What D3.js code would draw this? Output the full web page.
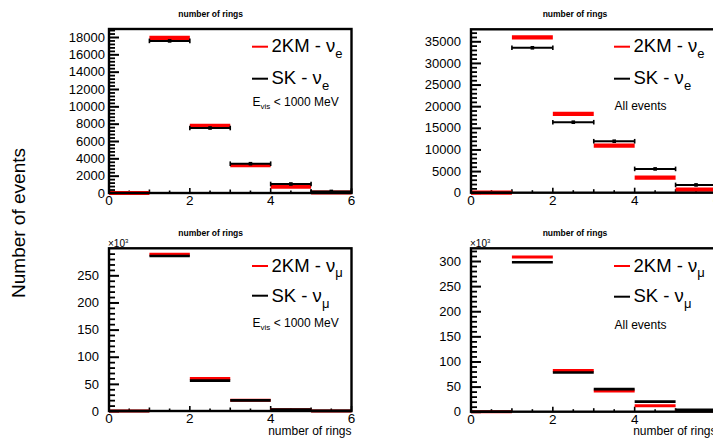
<!DOCTYPE html>
<html>
<head>
<meta charset="utf-8">
<script src="https://cdn.jsdelivr.net/npm/d3@7"></script>
<style>
  html, body { margin: 0; padding: 0; background: #fff; }
  svg { display: block; font-family: "Liberation Sans", Arial, Helvetica, sans-serif; }
</style>
</head>
<body>
<svg id="chart" width="713" height="439"></svg>
<script>
// Bin edges of the ring-count histograms
const binEdges = [0, 1, 2, 3, 4, 5, 6];

// nu_e, E_vis < 1000 MeV
const nueLow2KM = [0, 17900, 7750, 3200, 730, 60];
const nueLowSK  = [0, 17550, 7500, 3380, 1040, 180];
// nu_e, all events
const nueAll2KM = [0, 35900, 18200, 10900, 3500, 700];
const nueAllSK  = [0, 33500, 16300, 11900, 5500, 1800];
// nu_mu, E_vis < 1000 MeV
const numuLow2KM = [0, 289000, 60000, 20000, 2500, 200];
const numuLowSK  = [0, 285500, 56000, 19500, 2500, 200];
// nu_mu, all events
const numuAll2KM = [0, 308000, 82000, 41000, 12000, 2000];
const numuAllSK  = [0, 297500, 78000, 45000, 20000, 4000];

// Axis tick labels
const xTickLabels = ["0", "2", "4", "6"];

const svg = d3.select("#chart");
svg.append("rect").attr("width", 713).attr("height", 439).attr("fill", "#fff");

const panels = [
  { red: nueLow2KM, black: nueLowSK, flavor: "e", note: "low", errStyle: true,
    x0: 109, x1: 351.5, yTop: 29, yBottom: 193, yMax: 18923, scale: 1,
    major: 2000, minor: 400, labelGap: 4, titleX: 210.7, titleY: 16.5,
    legX: 252, legRedY: 46.7, legBlackY: 78.7, textRedY: 52, textBlackY: 84, noteY: 106 },
  { red: nueAll2KM, black: nueAllSK, flavor: "e", note: "all", errStyle: true,
    x0: 471, x1: 716.5, yTop: 29.3, yBottom: 192.7, yMax: 37774, scale: 1,
    major: 5000, minor: 1000, labelGap: 10, titleX: 575, titleY: 16.5,
    legX: 614, legRedY: 46.7, legBlackY: 78.7, textRedY: 52, textBlackY: 84, noteY: 110 },
  { red: numuLow2KM, black: numuLowSK, flavor: "μ", note: "low", errStyle: false,
    x0: 109, x1: 351.5, yTop: 248.3, yBottom: 411, yMax: 299800, scale: 1000,
    major: 50000, minor: 10000, labelGap: 10, titleX: 210.7, titleY: 235.5,
    legX: 252, legRedY: 266, legBlackY: 295.7, textRedY: 271.7, textBlackY: 302.3, noteY: 326.7,
    xTitle: true },
  { red: numuAll2KM, black: numuAllSK, flavor: "μ", note: "all", errStyle: false,
    x0: 471, x1: 716.5, yTop: 248.3, yBottom: 411.7, yMax: 325300, scale: 1000,
    major: 50000, minor: 10000, labelGap: 10, titleX: 575, titleY: 235.5,
    legX: 614, legRedY: 266, legBlackY: 296.7, textRedY: 271.7, textBlackY: 302.3, noteY: 329,
    xTitle: true }
];

panels.forEach(p => {
  const g = svg.append("g");
  const x = d3.scaleLinear().domain([0, 6]).range([p.x0, p.x1]);
  const y = d3.scaleLinear().domain([0, p.yMax]).range([p.yBottom, p.yTop]);

  // panel title
  g.append("text").attr("x", p.titleX).attr("y", p.titleY)
    .attr("text-anchor", "middle").attr("font-weight", "bold").attr("font-size", 8.5)
    .text("number of rings");

  // y axis: major ticks with labels, minor ticks
  const yMajor = d3.range(0, p.yMax + 1e-6, p.major);
  const yMinor = d3.range(0, p.yMax + 1e-6, p.minor).filter(v => Math.abs(v / p.major - Math.round(v / p.major)) > 1e-6);
  g.append("g").attr("transform", `translate(${p.x0},0)`)
    .call(d3.axisRight(y).tickValues(yMajor).tickSize(10).tickFormat(""))
    .call(a => a.select(".domain").remove())
    .call(a => a.selectAll("line").attr("stroke", "#000").attr("stroke-width", 2));
  g.append("g").attr("transform", `translate(${p.x0},0)`)
    .call(d3.axisRight(y).tickValues(yMinor).tickSize(6).tickFormat(""))
    .call(a => a.select(".domain").remove())
    .call(a => a.selectAll("line").attr("stroke", "#000").attr("stroke-width", 1.8));
  g.append("g").selectAll("text").data(yMajor).join("text")
    .attr("x", p.x0 - p.labelGap).attr("y", d => y(d)).attr("dy", "0.36em")
    .attr("text-anchor", "end").attr("font-size", 13)
    .text(d => d3.format("d")(d / p.scale));

  if (p.scale !== 1) {
    const t = g.append("text").attr("x", p.x0 - 1).attr("y", p.yTop - 1.5).attr("font-size", 10);
    t.append("tspan").text("×10");
    t.append("tspan").attr("font-size", 6).attr("dy", -4).text("3");
  }

  // x axis: ticks every 0.5, long at labelled values
  const xTicks = d3.range(0, 6.001, 0.5);
  g.append("g").selectAll("line").data(xTicks).join("line")
    .attr("x1", d => x(d)).attr("x2", d => x(d))
    .attr("y1", p.yBottom)
    .attr("y2", d => p.yBottom - (d % 2 === 0 ? 5 : (d % 1 === 0 ? 3.5 : 2.5)))
    .attr("stroke", "#000").attr("stroke-width", 1.6);
  g.append("g").selectAll("text").data(xTickLabels).join("text")
    .attr("x", d => x(+d)).attr("y", p.yBottom + 12)
    .attr("text-anchor", "middle").attr("font-size", 13.5)
    .text(d => d);

  if (p.xTitle) {
    g.append("text").attr("x", x(6)).attr("y", 435).attr("text-anchor", "end")
      .attr("font-size", 12).text("number of rings");
  }

  // histogram bins
  const bins = p.red.map((v, i) => ({ lo: binEdges[i], hi: binEdges[i + 1], red: v, black: p.black[i] }));

  g.append("g").selectAll("line").data(bins).join("line")
    .attr("x1", d => x(d.lo)).attr("x2", d => x(d.hi))
    .attr("y1", d => y(d.red)).attr("y2", d => y(d.red))
    .attr("stroke", "#ff0000").attr("stroke-width", p.errStyle ? 4.2 : 3);

  const bk = g.append("g");
  bk.selectAll("line.h").data(bins).join("line").attr("class", "h")
    .attr("x1", d => x(d.lo)).attr("x2", d => x(d.hi))
    .attr("y1", d => y(d.black)).attr("y2", d => y(d.black))
    .attr("stroke", "#000").attr("stroke-width", p.errStyle ? 2 : 2.6);
  if (p.errStyle) {
    const caps = bins.filter(d => d.black > 0).flatMap(d => [{ xv: d.lo, v: d.black }, { xv: d.hi, v: d.black }]);
    bk.selectAll("line.cap").data(caps).join("line").attr("class", "cap")
      .attr("x1", d => x(d.xv)).attr("x2", d => x(d.xv))
      .attr("y1", d => y(d.v) - 2.3).attr("y2", d => y(d.v) + 2.3)
      .attr("stroke", "#000").attr("stroke-width", 1.6);
    bk.selectAll("rect").data(bins.filter(d => d.black > 0)).join("rect")
      .attr("x", d => x((d.lo + d.hi) / 2) - 1.8).attr("y", d => y(d.black) - 1.8)
      .attr("width", 3.6).attr("height", 3.6).attr("fill", "#000");
  }

  // frame
  g.append("rect").attr("x", p.x0).attr("y", p.yTop)
    .attr("width", p.x1 - p.x0).attr("height", p.yBottom - p.yTop)
    .attr("fill", "none").attr("stroke", "#000").attr("stroke-width", 2.4);

  // legend
  const lg = g.append("g");
  lg.append("line").attr("x1", p.legX).attr("x2", p.legX + 16)
    .attr("y1", p.legRedY).attr("y2", p.legRedY).attr("stroke", "#ff0000").attr("stroke-width", 2);
  lg.append("line").attr("x1", p.legX).attr("x2", p.legX + 16)
    .attr("y1", p.legBlackY).attr("y2", p.legBlackY).attr("stroke", "#000").attr("stroke-width", 2);
  [["2KM - ν", p.textRedY], ["SK - ν", p.textBlackY]].forEach(([label, ty]) => {
    const t = lg.append("text").attr("x", p.legX + 19.5).attr("y", ty).attr("font-size", 18.5);
    t.append("tspan").text(label);
    t.append("tspan").attr("font-size", 13).attr("dy", 5.5).text(p.flavor);
  });
  const nt = lg.append("text").attr("x", p.legX + 0.5).attr("y", p.noteY).attr("font-size", 12);
  if (p.note === "low") {
    nt.append("tspan").text("E");
    nt.append("tspan").attr("font-size", 8).attr("dy", 3).text("vis");
    nt.append("tspan").attr("dy", -3).text(" < 1000 MeV");
  } else {
    nt.text("All events");
  }
});

// shared y-axis title
svg.append("text").attr("transform", "translate(25,223) rotate(-90)")
  .attr("text-anchor", "middle").attr("font-size", 19).text("Number of events");
</script>
</body>
</html>
